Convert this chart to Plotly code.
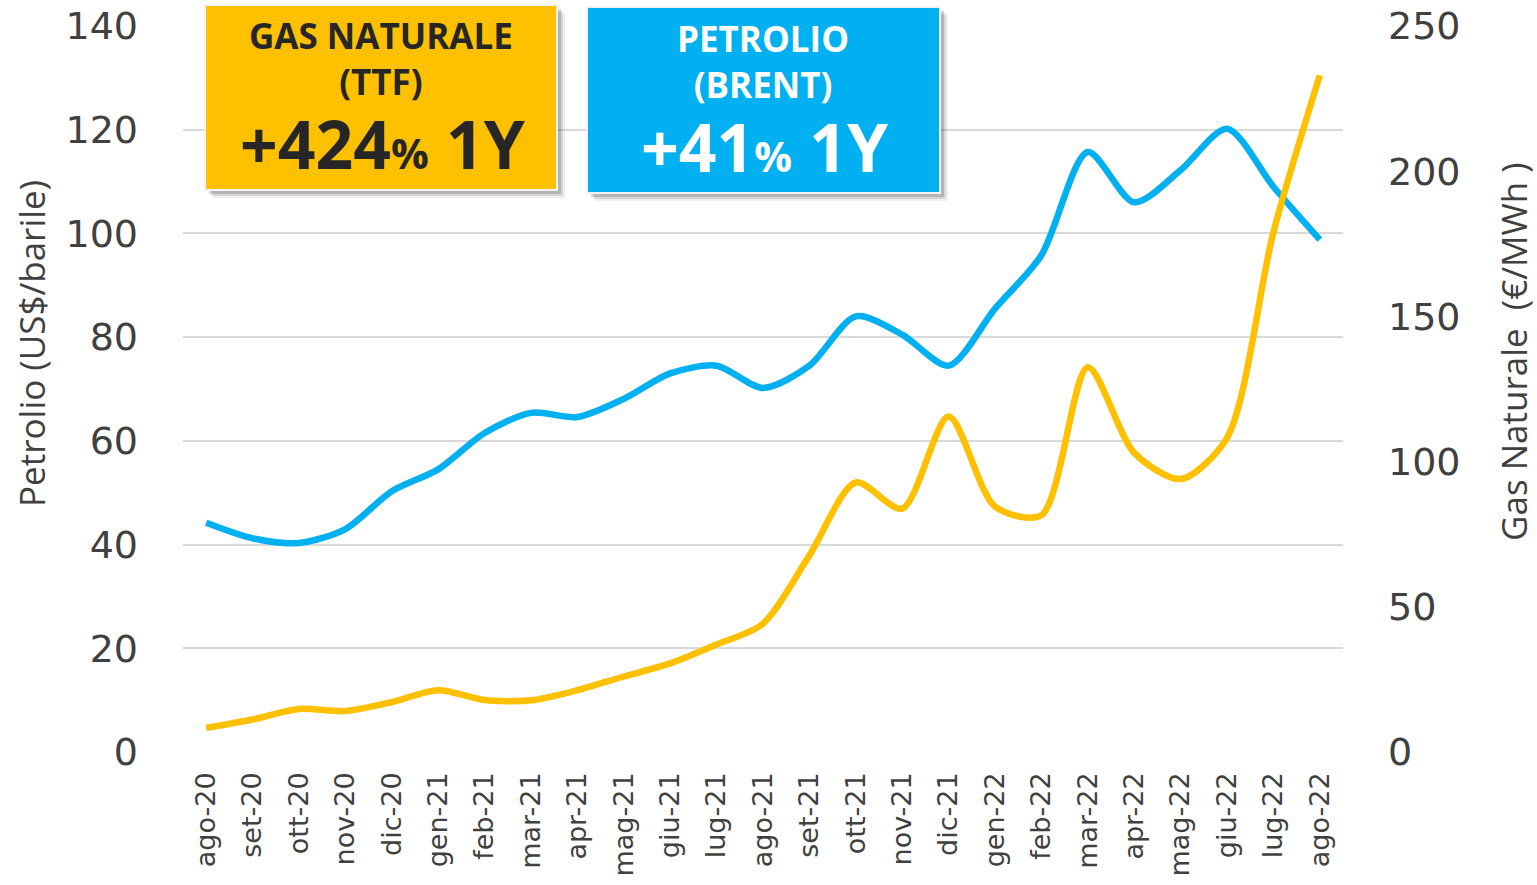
import plotly.graph_objects as go

months = ["ago-20", "set-20", "ott-20", "nov-20", "dic-20", "gen-21", "feb-21", "mar-21",
          "apr-21", "mag-21", "giu-21", "lug-21", "ago-21", "set-21", "ott-21", "nov-21",
          "dic-21", "gen-22", "feb-22", "mar-22", "apr-22", "mag-22", "giu-22", "lug-22", "ago-22"]

brent = [44.2, 41.2, 40.3, 43.0, 50.3, 54.5, 61.5, 65.4, 64.6, 68.1, 73.0, 74.5, 70.2,
         74.5, 84.0, 80.5, 74.5, 85.5, 95.8, 115.7, 106.0, 112.2, 120.2, 109.0, 98.8]

ttf = [8.3, 11.2, 14.8, 14.1, 17.2, 21.3, 17.9, 17.8, 21.3, 26.0, 30.5, 37.0, 44.2,
       67.7, 92.8, 83.8, 115.5, 84.5, 81.5, 132.5, 103.0, 94.0, 108.2, 179.0, 233.0]

BLUE = "#00B0F0"
GOLD = "#FFC000"
GREY = "#404040"

# plot area in pixels
L, R, T, B = 183, 1343, 26, 752
W, H = 1537, 885


def xp(px):
    return (px - L) / (R - L)


def yp(py):
    return (B - py) / (B - T)


fig = go.Figure()
fig.add_trace(go.Scatter(x=months, y=brent, mode="lines", name="Petrolio (Brent)",
                         line=dict(color=BLUE, width=6.5, shape="spline", smoothing=0.8),
                         yaxis="y"))
fig.add_trace(go.Scatter(x=months, y=ttf, mode="lines", name="Gas naturale (TTF)",
                         line=dict(color=GOLD, width=6.5, shape="spline", smoothing=0.8),
                         yaxis="y2"))

shapes = []
annotations = []


def box(x0, y0, x1, y1, color):
    # soft drop shadow
    for off, op in [(8, 0.06), (6, 0.10), (4, 0.16)]:
        shapes.append(dict(type="rect", xref="paper", yref="paper",
                           x0=xp(x0 + off), x1=xp(x1 + off), y0=yp(y1 + off), y1=yp(y0 + off),
                           fillcolor=f"rgba(0,0,0,{op})", line=dict(width=0), layer="above"))
    shapes.append(dict(type="rect", xref="paper", yref="paper",
                       x0=xp(x0), x1=xp(x1), y0=yp(y1), y1=yp(y0),
                       fillcolor=color, line=dict(color="#F2F2F2", width=2), layer="above"))


def label(text, cx, cy, size, color, family="Open Sans"):
    annotations.append(dict(text=text, xref="paper", yref="paper", x=xp(cx), y=yp(cy),
                            xanchor="center", yanchor="middle", showarrow=False,
                            font=dict(family=family, size=size, color=color)))


box(205, 5, 557, 190, GOLD)
box(587, 7, 940, 193, BLUE)

label("<b>GAS NATURALE<br>(TTF)</b>", 381, 59, 35, "#262626")
label("<b>+424<span style='font-size:42px'>%</span> 1Y</b>", 383, 143, 66, "#262626")
label("<b>PETROLIO<br>(BRENT)</b>", 763, 62, 35, "white")
label("<b>+41<span style='font-size:42px'>%</span> 1Y</b>", 765, 146, 66, "white")

# axis titles
annotations.append(dict(text="Petrolio (US$/barile)", xref="paper", yref="paper",
                        x=xp(31), y=yp(344), textangle=-90, showarrow=False,
                        xanchor="center", yanchor="middle",
                        font=dict(family="Open Sans", size=35, color=GREY)))
annotations.append(dict(text="Gas Naturale  (€/MWh )", xref="paper", yref="paper",
                        x=xp(1513), y=yp(352), textangle=-90, showarrow=False,
                        xanchor="center", yanchor="middle",
                        font=dict(family="Open Sans", size=35, color=GREY)))

fig.update_layout(
    width=W, height=H,
    margin=dict(l=L, r=W - R, t=T, b=H - B, pad=0, autoexpand=False),
    paper_bgcolor="white", plot_bgcolor="white",
    showlegend=False,
    shapes=shapes, annotations=annotations,
    xaxis=dict(type="category", range=[-0.5, 24.5], tickangle=-90, automargin=False,
               tickfont=dict(family="DejaVu Sans", size=27, color=GREY),
               showgrid=False, zeroline=False, showline=False, ticks="",
               ticklabelstandoff=14),
    yaxis=dict(range=[0, 140], dtick=20, automargin=False,
               tickfont=dict(family="DejaVu Sans", size=38, color=GREY),
               showgrid=True, gridcolor="#D9D9D9", gridwidth=1.5, zeroline=False,
               showline=False, ticks="", ticklabelstandoff=44),
    yaxis2=dict(range=[0, 250], dtick=50, overlaying="y", side="right", automargin=False,
                tickfont=dict(family="DejaVu Sans", size=38, color=GREY),
                showgrid=False, zeroline=False, showline=False, ticks="",
                ticklabelstandoff=44),
)

fig.write_html("out.html", post_script="document.body.style.margin='0';",
               config={"displayModeBar": False})
